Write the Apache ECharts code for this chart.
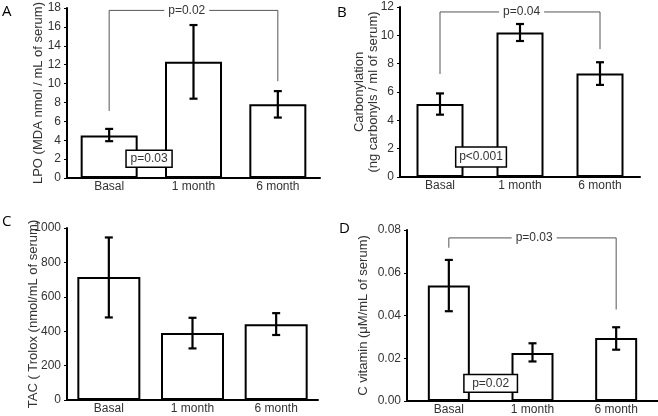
<!DOCTYPE html>
<html>
<head>
<meta charset="utf-8">
<script src="https://cdn.jsdelivr.net/npm/echarts@6/dist/echarts.min.js"></script>
<style>
  html, body { margin: 0; padding: 0; background: #fff; }
  #chart { width: 658px; height: 416px; }
</style>
</head>
<body>
<div id="chart"></div>
<script>
// categories shared by all four panels
const categories = ['Basal', '1 month', '6 month'];

// A: LPO
const lpoMean = [4.5, 12.3, 7.8];
const lpoLow = [3.9, 8.4, 6.4];
const lpoHigh = [5.2, 16.2, 9.2];
// B: carbonylation
const carbMean = [5.15, 10.2, 7.3];
const carbLow = [4.4, 9.6, 6.5];
const carbHigh = [5.9, 10.8, 8.1];
// C: TAC
const tacMean = [715, 390, 440];
const tacLow = [480, 300, 378];
const tacHigh = [945, 478, 505];
// D: C vitamin
const vitMean = [0.054, 0.0225, 0.0295];
const vitLow = [0.042, 0.0185, 0.024];
const vitHigh = [0.066, 0.027, 0.0345];

// significance brackets: [leftCat, leftY, topY, rightCat, rightY, textPos(0..1)]
const bracketA = [0, 7.1, 17.75, 2, 10.25, 0.46];
const bracketB = [0, 7.27, 11.65, 2, 9.03, 0.51];
const bracketD = [0, 0.0717, 0.0763, 2, 0.0428, 0.51];
const bracketText = ['p=0.02', 'p=0.04', 'p=0.03'];

// boxed p values: [fromFrac, toFrac (between cat 0 and 1), yLow, yHigh]
const boxA = [0.2, 0.746, 1.15, 2.93];
const boxB = [0.196, 0.83, 0.71, 2.12];
const boxD = [0.18, 0.82, 0.0041, 0.0124];
const boxText = ['p=0.03', 'p<0.001', 'p=0.02'];

const FONT = '"Liberation Sans", Arial, sans-serif';
const TXT = '#333';

var myChart = echarts.init(document.getElementById('chart'));

// grids (left, top, width, height) for A, B, C, D
const grids = [
  { left: 67, top: 6, width: 253, height: 172 },
  { left: 400, top: 7, width: 240, height: 170 },
  { left: 67, top: 228, width: 251, height: 172 },
  { left: 407, top: 230, width: 251, height: 174 }
];

function xAxisFor(i) {
  return {
    type: 'category', gridIndex: i, data: categories,
    axisTick: { show: false },
    axisLine: { lineStyle: { color: '#000', width: 2 } },
    axisLabel: { color: TXT, fontSize: 12, fontFamily: FONT, margin: 3 }
  };
}

function yAxisFor(i, max, interval, name, gap, fmt) {
  return {
    type: 'value', gridIndex: i, min: 0, max: max, interval: interval,
    name: name, nameLocation: 'middle', nameGap: gap, nameMoveOverlap: false,
    nameTextStyle: { color: TXT, fontSize: 13, fontFamily: FONT, lineHeight: 14 },
    splitLine: { show: false },
    axisLine: { show: true, lineStyle: { color: '#000', width: 2 } },
    axisTick: { show: true, length: 3, lineStyle: { color: '#000' } },
    axisLabel: { color: TXT, fontSize: 12, fontFamily: FONT, margin: 6, formatter: fmt }
  };
}

function barSeries(i, data, width) {
  return {
    type: 'bar', xAxisIndex: i, yAxisIndex: i, data: data, barWidth: width,
    itemStyle: { color: '#fff', borderColor: '#000', borderWidth: 2 },
    silent: true
  };
}

function errSeries(i, low, high) {
  const data = low.map(function (v, k) { return [k, v, high[k]]; });
  return {
    type: 'custom', xAxisIndex: i, yAxisIndex: i, data: data, silent: true, z: 5,
    renderItem: function (params, api) {
      const lo = api.coord([api.value(0), api.value(1)]);
      const hi = api.coord([api.value(0), api.value(2)]);
      const cap = 4;
      const st = { stroke: '#000', lineWidth: 2.2 };
      return {
        type: 'group', children: [
          { type: 'line', shape: { x1: lo[0], y1: lo[1], x2: hi[0], y2: hi[1] }, style: st },
          { type: 'line', shape: { x1: lo[0] - cap, y1: lo[1], x2: lo[0] + cap, y2: lo[1] }, style: st },
          { type: 'line', shape: { x1: hi[0] - cap, y1: hi[1], x2: hi[0] + cap, y2: hi[1] }, style: st }
        ]
      };
    }
  };
}

function bracketSeries(i, b, label) {
  return {
    type: 'custom', xAxisIndex: i, yAxisIndex: i, data: [b], silent: true, z: 6,
    renderItem: function (params, api) {
      const l = api.coord([api.value(0), api.value(1)]);
      const lt = api.coord([api.value(0), api.value(2)]);
      const r = api.coord([api.value(3), api.value(4)]);
      const rt = api.coord([api.value(3), api.value(2)]);
      const tx = lt[0] + (rt[0] - lt[0]) * api.value(5);
      return {
        type: 'group', children: [
          { type: 'polyline', shape: { points: [l, lt, rt, r] },
            style: { stroke: '#555', lineWidth: 1, fill: null } },
          { type: 'text', style: { text: label, x: tx, y: lt[1], align: 'center', verticalAlign: 'middle',
              fill: TXT, font: '12px ' + FONT, backgroundColor: '#fff', padding: [1, 4] } }
        ]
      };
    }
  };
}

function boxSeries(i, bx, label) {
  return {
    type: 'custom', xAxisIndex: i, yAxisIndex: i, data: [bx], silent: true, z: 7,
    renderItem: function (params, api) {
      const c0 = api.coord([0, api.value(3)]);
      const c1 = api.coord([1, api.value(2)]);
      const x0 = c0[0] + (c1[0] - c0[0]) * api.value(0);
      const x1 = c0[0] + (c1[0] - c0[0]) * api.value(1);
      const y0 = c0[1], y1 = c1[1];
      return {
        type: 'group', children: [
          { type: 'rect', shape: { x: x0, y: y0, width: x1 - x0, height: y1 - y0 },
            style: { fill: '#fff', stroke: '#000', lineWidth: 1.5 } },
          { type: 'text', style: { text: label, x: (x0 + x1) / 2, y: (y0 + y1) / 2, align: 'center',
              verticalAlign: 'middle', fill: TXT, font: '12px ' + FONT } }
        ]
      };
    }
  };
}

function letter(t, x, y) {
  return { type: 'text', left: x, top: y, style: { text: t, fill: '#000', font: '15px "Open Sans", sans-serif' } };
}

var option = {
  animation: false,
  backgroundColor: '#fff',
  grid: grids,
  xAxis: [xAxisFor(0), xAxisFor(1), xAxisFor(2), xAxisFor(3)],
  yAxis: [
    yAxisFor(0, 18, 2, 'LPO (MDA nmol / mL of serum)', 22),
    yAxisFor(1, 12, 2, 'Carbonylation\n(ng carbonyls / ml of serum)', 20),
    yAxisFor(2, 1000, 200, 'TAC ( Trolox (nmol/mL of serum)', 27, function (v) { return String(v); }),
    yAxisFor(3, 0.08, 0.02, 'C vitamin (\u03bcM/mL of serum)', 37, function (v) { return v.toFixed(2); })
  ],
  graphic: [
    letter('A', 2, 4), letter('B', 337, 5), letter('C', 2, 214), letter('D', 339, 221)
  ],
  series: [
    barSeries(0, lpoMean, 57), errSeries(0, lpoLow, lpoHigh),
    bracketSeries(0, bracketA, bracketText[0]), boxSeries(0, boxA, boxText[0]),
    barSeries(1, carbMean, 47), errSeries(1, carbLow, carbHigh),
    bracketSeries(1, bracketB, bracketText[1]), boxSeries(1, boxB, boxText[1]),
    barSeries(2, tacMean, 63), errSeries(2, tacLow, tacHigh),
    barSeries(3, vitMean, 42), errSeries(3, vitLow, vitHigh),
    bracketSeries(3, bracketD, bracketText[2]), boxSeries(3, boxD, boxText[2])
  ]
};

myChart.setOption(option);
window.addEventListener('resize', function () { myChart.resize(); });
</script>
</body>
</html>
